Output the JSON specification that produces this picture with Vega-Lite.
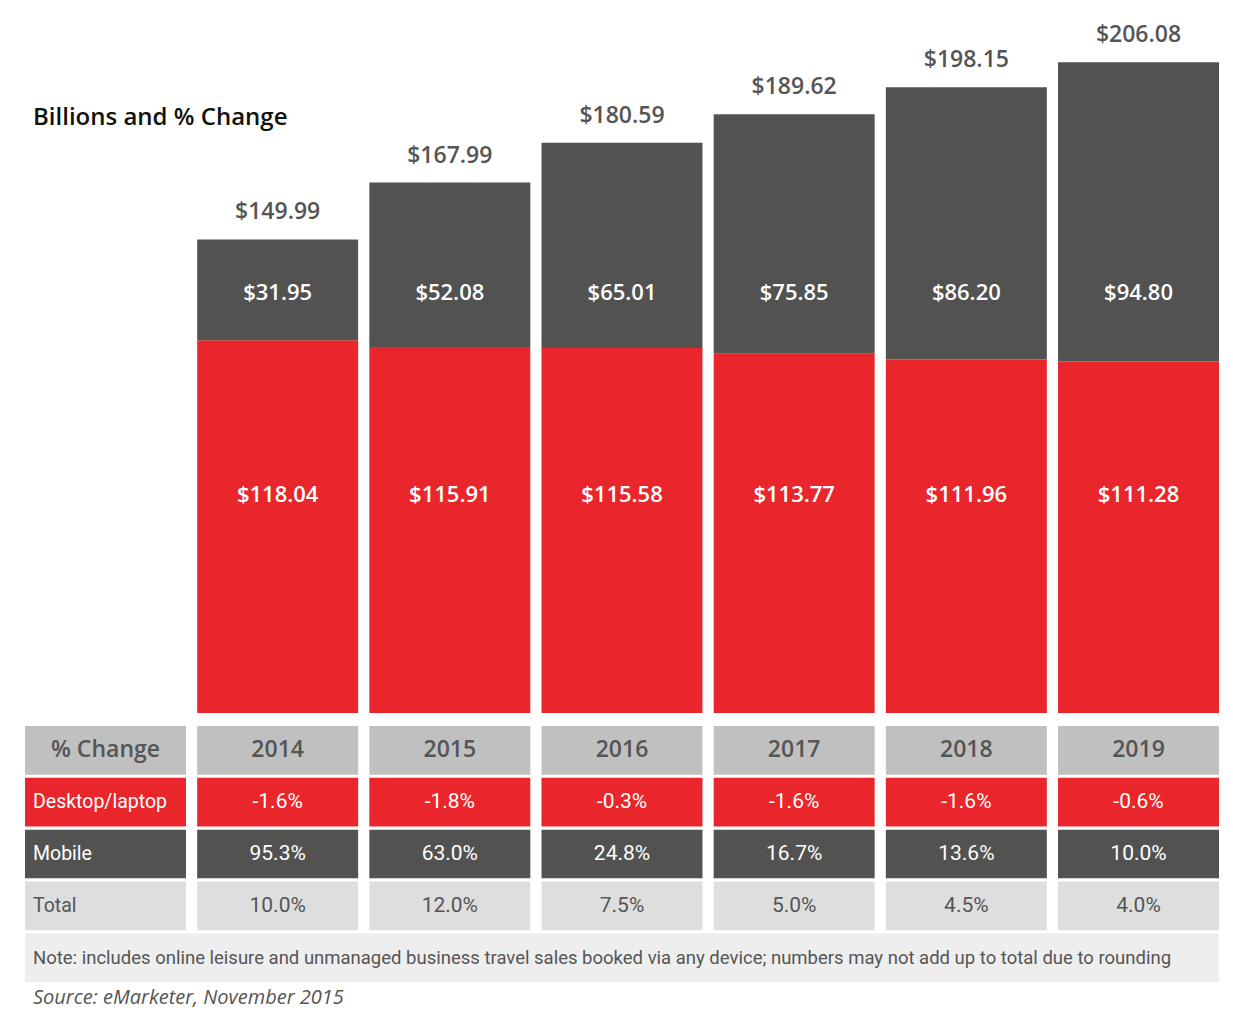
{
  "$schema": "https://vega.github.io/schema/vega-lite/v6.json",
  "padding": {"left": 25, "top": 0, "right": 0, "bottom": 4},
  "spacing": 13,
  "resolve": {"scale": {"color": "independent"}},
  "config": {"view": {"stroke": null}},
  "datasets": {
    "segments": [
      {"year": "2014", "device": "Desktop/laptop", "value": 118.04},
      {"year": "2014", "device": "Mobile", "value": 31.95},
      {"year": "2015", "device": "Desktop/laptop", "value": 115.91},
      {"year": "2015", "device": "Mobile", "value": 52.08},
      {"year": "2016", "device": "Desktop/laptop", "value": 115.58},
      {"year": "2016", "device": "Mobile", "value": 65.01},
      {"year": "2017", "device": "Desktop/laptop", "value": 113.77},
      {"year": "2017", "device": "Mobile", "value": 75.85},
      {"year": "2018", "device": "Desktop/laptop", "value": 111.96},
      {"year": "2018", "device": "Mobile", "value": 86.20},
      {"year": "2019", "device": "Desktop/laptop", "value": 111.28},
      {"year": "2019", "device": "Mobile", "value": 94.80}
    ],
    "totals": [
      {"year": "2014", "total": 149.99},
      {"year": "2015", "total": 167.99},
      {"year": "2016", "total": 180.59},
      {"year": "2017", "total": 189.62},
      {"year": "2018", "total": 198.15},
      {"year": "2019", "total": 206.08}
    ],
    "cells": [
      {"row": "header", "col": "% Change", "text": "% Change"},
      {"row": "header", "col": "2014", "text": "2014"},
      {"row": "header", "col": "2015", "text": "2015"},
      {"row": "header", "col": "2016", "text": "2016"},
      {"row": "header", "col": "2017", "text": "2017"},
      {"row": "header", "col": "2018", "text": "2018"},
      {"row": "header", "col": "2019", "text": "2019"},
      {"row": "Desktop/laptop", "col": "% Change", "text": "Desktop/laptop"},
      {"row": "Desktop/laptop", "col": "2014", "text": "-1.6%"},
      {"row": "Desktop/laptop", "col": "2015", "text": "-1.8%"},
      {"row": "Desktop/laptop", "col": "2016", "text": "-0.3%"},
      {"row": "Desktop/laptop", "col": "2017", "text": "-1.6%"},
      {"row": "Desktop/laptop", "col": "2018", "text": "-1.6%"},
      {"row": "Desktop/laptop", "col": "2019", "text": "-0.6%"},
      {"row": "Mobile", "col": "% Change", "text": "Mobile"},
      {"row": "Mobile", "col": "2014", "text": "95.3%"},
      {"row": "Mobile", "col": "2015", "text": "63.0%"},
      {"row": "Mobile", "col": "2016", "text": "24.8%"},
      {"row": "Mobile", "col": "2017", "text": "16.7%"},
      {"row": "Mobile", "col": "2018", "text": "13.6%"},
      {"row": "Mobile", "col": "2019", "text": "10.0%"},
      {"row": "Total", "col": "% Change", "text": "Total"},
      {"row": "Total", "col": "2014", "text": "10.0%"},
      {"row": "Total", "col": "2015", "text": "12.0%"},
      {"row": "Total", "col": "2016", "text": "7.5%"},
      {"row": "Total", "col": "2017", "text": "5.0%"},
      {"row": "Total", "col": "2018", "text": "4.5%"},
      {"row": "Total", "col": "2019", "text": "4.0%"}
    ]
  },
  "vconcat": [
    {
      "width": 1194,
      "height": 713,
      "encoding": {
        "x": {"field": "year", "type": "nominal", "axis": null,
              "scale": {"domain": ["% Change", "2014", "2015", "2016", "2017", "2018", "2019"], "paddingInner": 0.065, "paddingOuter": 0}}
      },
      "layer": [
        {
          "data": {"name": "segments"},
          "mark": {"type": "bar"},
          "encoding": {
            "y": {"field": "value", "type": "quantitative", "stack": "zero", "axis": null,
                  "scale": {"domain": [0, 225.8], "nice": false}},
            "color": {"field": "device", "type": "nominal", "legend": null,
                      "scale": {"domain": ["Desktop/laptop", "Mobile"], "range": ["#e8262b", "#525250"]}},
            "order": {"field": "device", "sort": "ascending"}
          }
        },
        {
          "data": {"name": "segments"},
          "transform": [{"filter": "datum.device == 'Mobile'"}],
          "mark": {"type": "text", "font": "Open Sans", "fontWeight": 600, "fontSize": 22, "color": "white", "baseline": "middle"},
          "encoding": {
            "y": {"datum": 133, "type": "quantitative"},
            "text": {"field": "value", "type": "quantitative", "format": "$.2f"}
          }
        },
        {
          "data": {"name": "segments"},
          "transform": [{"filter": "datum.device == 'Desktop/laptop'"}],
          "mark": {"type": "text", "font": "Open Sans", "fontWeight": 600, "fontSize": 22, "color": "white", "baseline": "middle"},
          "encoding": {
            "y": {"datum": 69, "type": "quantitative"},
            "text": {"field": "value", "type": "quantitative", "format": "$.2f"}
          }
        },
        {
          "data": {"name": "totals"},
          "mark": {"type": "text", "font": "Open Sans", "fontWeight": 600, "fontSize": 23, "color": "#555555", "baseline": "middle", "dy": -27},
          "encoding": {
            "y": {"field": "total", "type": "quantitative"},
            "text": {"field": "total", "type": "quantitative", "format": "$.2f"}
          }
        },
        {
          "data": {"values": [{"label": "Billions and % Change"}]},
          "mark": {"type": "text", "font": "Open Sans", "fontWeight": 600, "fontSize": 24, "color": "#111111", "align": "left", "baseline": "middle", "dx": 8},
          "encoding": {
            "x": {"datum": "% Change", "type": "nominal", "bandPosition": 0},
            "y": {"datum": 188.5, "type": "quantitative"},
            "text": {"field": "label"}
          }
        }
      ]
    },
    {
      "width": 1194,
      "height": 256,
      "title": {"text": "Source: eMarketer, November 2015", "orient": "bottom", "anchor": "start", "offset": 6, "dx": 8,
                "font": "Open Sans", "fontSize": 20, "fontStyle": "italic", "fontWeight": "normal", "color": "#555555"},
      "encoding": {
        "y": {"field": "row", "type": "nominal", "axis": null,
              "scale": {"domain": ["header", "Desktop/laptop", "Mobile", "Total", "note"], "paddingInner": 0.06, "paddingOuter": 0}}
      },
      "layer": [
        {
          "data": {"name": "cells"},
          "mark": {"type": "rect"},
          "encoding": {
            "x": {"field": "col", "type": "nominal", "axis": null,
                  "scale": {"domain": ["% Change", "2014", "2015", "2016", "2017", "2018", "2019"], "paddingInner": 0.065, "paddingOuter": 0}},
            "color": {"field": "row", "type": "nominal", "legend": null,
                      "scale": {"domain": ["header", "Desktop/laptop", "Mobile", "Total"], "range": ["#c0c0c0", "#e8262b", "#525250", "#dedede"]}}
          }
        },
        {
          "data": {"values": [{"row": "note"}]},
          "mark": {"type": "bar", "color": "#eeeeee"},
          "encoding": {}
        },
        {
          "data": {"values": [{"row": "note", "text": "Note: includes online leisure and unmanaged business travel sales booked via any device; numbers may not add up to total due to rounding"}]},
          "mark": {"type": "text", "font": "Roboto", "fontSize": 18.5, "color": "#555555", "align": "left", "baseline": "middle", "dx": 8},
          "encoding": {
            "x": {"datum": "% Change", "type": "nominal", "bandPosition": 0},
            "text": {"field": "text"}
          }
        },
        {
          "data": {"name": "cells"},
          "transform": [{"filter": "datum.row == 'header'"}],
          "mark": {"type": "text", "font": "Open Sans", "fontWeight": 600, "fontSize": 23, "color": "#555555", "baseline": "middle"},
          "encoding": {
            "x": {"field": "col", "type": "nominal"},
            "text": {"field": "text"}
          }
        },
        {
          "data": {"name": "cells"},
          "transform": [{"filter": "datum.row != 'header' && datum.col != '% Change'"}],
          "mark": {"type": "text", "font": "Roboto", "fontSize": 21, "baseline": "middle"},
          "encoding": {
            "x": {"field": "col", "type": "nominal"},
            "text": {"field": "text"},
            "color": {"condition": {"test": "datum.row == 'Total'", "value": "#555555"}, "value": "white"}
          }
        },
        {
          "data": {"name": "cells"},
          "transform": [{"filter": "datum.row != 'header' && datum.col == '% Change'"}],
          "mark": {"type": "text", "font": "Roboto", "fontSize": 19.5, "align": "left", "baseline": "middle", "dx": 8},
          "encoding": {
            "x": {"field": "col", "type": "nominal", "bandPosition": 0},
            "text": {"field": "text"},
            "color": {"condition": {"test": "datum.row == 'Total'", "value": "#555555"}, "value": "white"}
          }
        }
      ]
    }
  ]
}
